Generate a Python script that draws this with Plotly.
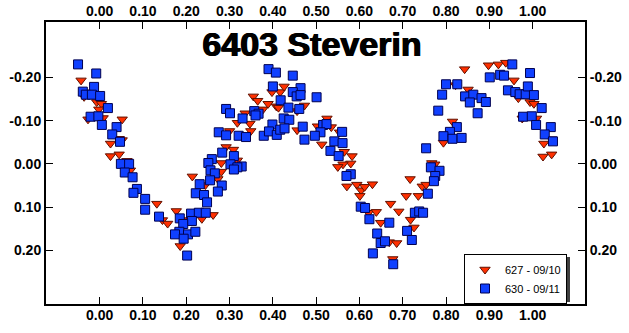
import plotly.graph_objects as go

# ---- data (phase, differential magnitude) ----
s627_phase = [-0.043, -0.036, -0.007, 0.004, -0.002, -0.027, 0.008, 0.052, 0.045, 0.052,
              0.025, 0.025, 0.045, 0.063, 0.071, 0.132, 0.145, 0.157, 0.355, 0.365,
              0.336, 0.318, 0.347, 0.349, 0.300, 0.292, 0.309, 0.318, 0.281, 0.281,
              0.273, 0.244, 0.214, 0.177, 0.262, 0.236, 0.186, 0.198, 0.377, 0.389,
              0.398, 0.417, 0.426, 0.408, 0.413, 0.456, 0.473, 0.456, 0.503, 0.525,
              0.535, 0.513, 0.554, 0.565, 0.583, 0.580, 0.562, 0.550, 0.571, 0.594,
              0.604, 0.601, 0.815, 0.794, 0.767, 0.774, 0.717, 0.612, 0.630, 0.745,
              0.754, 0.708, 0.736, 0.672, 0.691, 0.621, 0.639, 0.718, 0.726, 0.649,
              0.669, 0.657, 0.686, 0.677, 0.843, 0.898, 0.921, 0.938, 0.957, 0.851,
              0.822, 0.967, 0.994, 1.003, 0.976, 1.009, 1.044, 1.026, 1.024, 1.044]
s627_mag = [-0.193, -0.155, -0.143, -0.139, -0.126, -0.103, -0.106, -0.103, -0.058, -0.055,
            -0.047, -0.018, -0.022, -0.007, 0.015, 0.092, 0.130, 0.138, -0.156, -0.146,
            -0.117, -0.095, -0.093, -0.076, -0.076, -0.039, -0.033, -0.008, -0.002, 0.018,
            0.035, 0.049, 0.029, 0.109, 0.118, 0.127, 0.190, 0.130, -0.126, -0.139,
            -0.166, -0.166, -0.179, -0.133, -0.130, -0.122, -0.135, -0.078, -0.087, -0.105,
            -0.085, -0.045, -0.073, -0.028, -0.018, -0.001, 0.001, 0.007, 0.052, 0.048,
            0.061, 0.074, -0.098, -0.049, -0.002, 0.001, 0.035, 0.053, 0.047, 0.052,
            0.048, 0.074, 0.074, 0.092, 0.110, 0.113, 0.111, 0.129, 0.147, 0.136,
            0.181, 0.182, 0.183, 0.220, -0.219, -0.228, -0.230, -0.234, -0.193, -0.172,
            -0.182, -0.152, -0.143, -0.139, -0.105, -0.105, -0.057, -0.047, -0.017, -0.022]

s630_phase = [-0.050, -0.008, -0.013, -0.039, -0.032, -0.018, 0.001, 0.019, -0.021, -0.003,
              0.005, 0.039, 0.029, 0.047, 0.049, 0.068, 0.058, 0.076, 0.086, 0.078,
              0.105, 0.105, 0.137, 0.292, 0.301, 0.330, 0.357, 0.367, 0.360, 0.275,
              0.292, 0.321, 0.338, 0.379, 0.283, 0.310, 0.259, 0.251, 0.302, 0.328,
              0.318, 0.310, 0.256, 0.266, 0.255, 0.231, 0.282, 0.222, 0.241, 0.273,
              0.248, 0.211, 0.229, 0.245, 0.185, 0.213, 0.193, 0.184, 0.174, 0.204,
              0.221, 0.194, 0.202, 0.390, 0.407, 0.446, 0.400, 0.464, 0.446, 0.455,
              0.464, 0.501, 0.418, 0.436, 0.461, 0.425, 0.438, 0.399, 0.391, 0.409,
              0.417, 0.427, 0.469, 0.473, 0.516, 0.524, 0.510, 0.497, 0.560, 0.542,
              0.561, 0.533, 0.552, 0.580, 0.570, 0.603, 0.800, 0.826, 0.791, 0.782,
              0.825, 0.809, 0.794, 0.815, 0.836, 0.754, 0.765, 0.785, 0.775, 0.772,
              0.758, 0.613, 0.623, 0.669, 0.728, 0.738, 0.747, 0.710, 0.641, 0.649,
              0.659, 0.721, 0.631, 0.678, 0.901, 0.925, 0.934, 0.953, 0.994, 0.844,
              0.863, 0.855, 0.882, 0.892, 0.873, 0.943, 0.960, 0.970, 0.984, 0.989,
              1.003, 1.021, 0.978, 0.998, 1.008, 1.042, 1.028, 1.047]
s630_mag = [-0.230, -0.209, -0.178, -0.167, -0.160, -0.160, -0.157, -0.129, -0.109, -0.110,
            -0.090, -0.085, -0.068, -0.051, 0.000, 0.000, 0.020, 0.031, 0.058, 0.067,
            0.081, 0.106, 0.122, -0.127, -0.117, -0.105, -0.122, -0.116, -0.112, -0.073,
            -0.066, -0.065, -0.062, -0.065, -0.026, -0.018, -0.011, -0.002, 0.001, 0.006,
            0.008, 0.013, 0.015, 0.022, 0.038, 0.047, 0.050, 0.068, 0.072, 0.064,
            0.089, 0.115, 0.113, 0.113, 0.126, 0.132, 0.139, 0.157, 0.163, 0.163,
            0.157, 0.173, 0.212, -0.219, -0.211, -0.204, -0.179, -0.175, -0.166, -0.156,
            -0.159, -0.154, -0.147, -0.130, -0.127, -0.105, -0.102, -0.091, -0.075, -0.067,
            -0.079, -0.082, -0.086, -0.056, -0.090, -0.092, -0.073, -0.065, -0.074, -0.052,
            -0.048, -0.030, -0.018, 0.024, 0.028, 0.099, -0.184, -0.184, -0.160, -0.123,
            -0.085, -0.074, -0.064, -0.058, -0.060, -0.036, 0.008, 0.016, 0.028, 0.040,
            0.069, 0.102, 0.128, 0.136, 0.113, 0.110, 0.113, 0.155, 0.161, 0.183,
            0.179, 0.176, 0.207, 0.232, -0.200, -0.206, -0.204, -0.230, -0.210, -0.156,
            -0.160, -0.142, -0.152, -0.143, -0.117, -0.170, -0.166, -0.161, -0.161, -0.179,
            -0.159, -0.129, -0.109, -0.110, -0.090, -0.085, -0.068, -0.052]

x_tickvals = [0.0, 0.1, 0.2, 0.3, 0.4, 0.5, 0.6, 0.7, 0.8, 0.9, 1.0]
x_ticktext = ["0.00", "0.10", "0.20", "0.30", "0.40", "0.50", "0.60", "0.70", "0.80", "0.90", "1.00"]
y_tickvals = [-0.2, -0.1, 0.0, 0.1, 0.2]
y_ticktext = ["-0.20", "-0.10", "0.00", "0.10", "0.20"]

title_text = "6403 Steverin"
name_627 = "627 - 09/10"
name_630 = "630 - 09/11"

# ---- figure ----
FONT = "Liberation Sans, Arial, sans-serif"
X_RANGE = [-0.124, 1.121]
Y_RANGE = [0.324, -0.328]
PLOT_L, PLOT_R, PLOT_T, PLOT_B = 46, 585, 22, 304


def px_to_paper_x(px):
    return (px - PLOT_L) / (PLOT_R - PLOT_L)


def px_to_paper_y(py):
    return (PLOT_B - py) / (PLOT_B - PLOT_T)


fig = go.Figure()
fig.add_trace(go.Scatter(
    x=s627_phase, y=s627_mag, mode="markers", name=name_627,
    marker=dict(symbol="triangle-down", size=9, color="#ff3000",
                line=dict(color="#601000", width=1)),
))
fig.add_trace(go.Scatter(
    x=s630_phase, y=s630_mag, mode="markers", name=name_630,
    marker=dict(symbol="square", size=9, color="#1040ff",
                line=dict(color="#000050", width=1)),
))
# empty trace so that the mirrored label axes (top/right) are drawn
fig.add_trace(go.Scatter(x=[], y=[], xaxis="x2", yaxis="y2",
                         showlegend=False, hoverinfo="skip"))

tickfont = dict(family=FONT, size=14, color="black", weight="bold")
axis_common = dict(showgrid=False, zeroline=False, showline=True, linecolor="black",
                   linewidth=2, ticks="inside", ticklen=7, tickwidth=1,
                   tickcolor="black", tickfont=tickfont, automargin=False)

# legend box geometry (pixels) and its drop shadow
LEG_RIGHT, LEG_TOP = 567, 254
LEG_W, LEG_H = 101, 45

fig.update_layout(
    width=629, height=333,
    margin=dict(l=PLOT_L, r=629 - PLOT_R, t=PLOT_T, b=333 - PLOT_B, pad=0,
                autoexpand=False),
    paper_bgcolor="white", plot_bgcolor="white",
    title=dict(text=title_text, x=312 / 629, xanchor="center",
               y=1 - 44 / 333, yanchor="middle", automargin=False,
               font=dict(family=FONT, size=34, color="black", weight="bold",
                         shadow="0.7px 0 0 black, -0.7px 0 0 black")),
    xaxis=dict(range=X_RANGE, tickvals=x_tickvals, ticktext=x_ticktext,
               side="bottom", mirror=True, ticklabelstandoff=-3, **axis_common),
    xaxis2=dict(range=X_RANGE, tickvals=x_tickvals, ticktext=x_ticktext,
                overlaying="x", side="top", matches="x", ticklabelstandoff=-2,
                **axis_common),
    yaxis=dict(range=Y_RANGE, tickvals=y_tickvals, ticktext=y_ticktext,
               side="left", mirror=True, **axis_common),
    yaxis2=dict(range=Y_RANGE, tickvals=y_tickvals, ticktext=y_ticktext,
                overlaying="y", side="right", matches="y", **axis_common),
    legend=dict(x=px_to_paper_x(LEG_RIGHT), xanchor="right",
                y=px_to_paper_y(LEG_TOP), yanchor="top",
                bgcolor="white", bordercolor="black", borderwidth=1,
                font=dict(family=FONT, size=11, color="black"),
                tracegroupgap=0, itemsizing="trace"),
    showlegend=True,
    shapes=[dict(type="rect", xref="paper", yref="paper", layer="above",
                 x0=px_to_paper_x(LEG_RIGHT - LEG_W + 3), x1=px_to_paper_x(LEG_RIGHT + 3),
                 y0=px_to_paper_y(LEG_TOP + LEG_H + 3), y1=px_to_paper_y(LEG_TOP + 3),
                 fillcolor="#404040", line=dict(width=0))],
)

fig.write_html("out.html")
